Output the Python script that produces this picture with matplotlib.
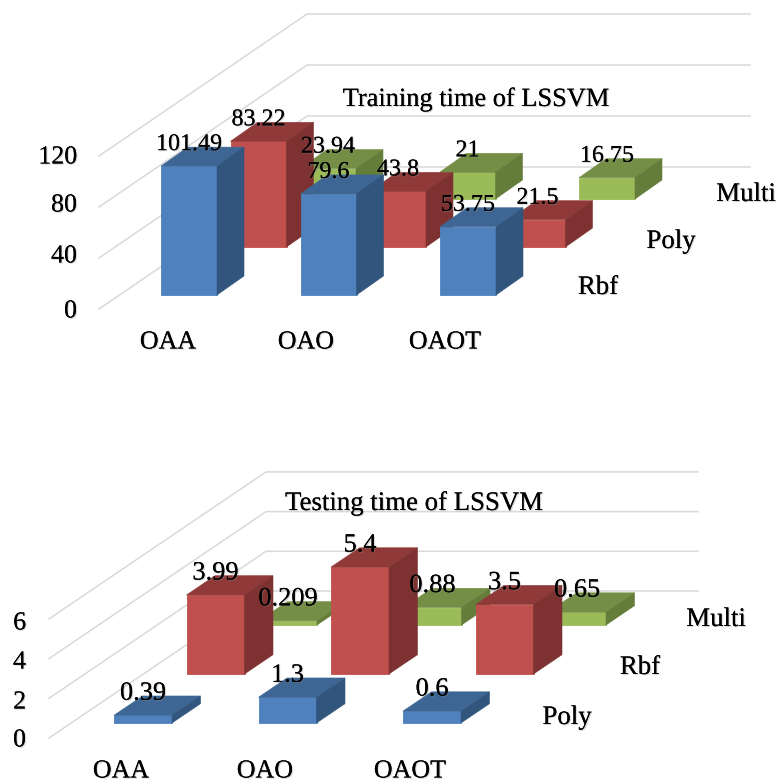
import matplotlib
matplotlib.use('Agg')
import matplotlib.pyplot as plt
import matplotlib.patheffects as pe

plt.rcParams['font.family'] = ['Liberation Serif', 'DejaVu Serif']

categories = ['OAA', 'OAO', 'OAOT']

# training time, front to back
train_series = ['Rbf', 'Poly', 'Multi']
train_rbf = [101.49, 79.6, 53.75]
train_poly = [83.22, 43.8, 21.5]
train_multi = [23.94, 21, 16.75]
train_ticks = [0, 40, 80, 120]

# testing time, front to back
test_series = ['Poly', 'Rbf', 'Multi']
test_poly = [0.39, 1.3, 0.6]
test_rbf = [3.99, 5.4, 3.5]
test_multi = [0.209, 0.88, 0.65]
test_ticks = [0, 2, 4, 6]

BLUE = ('#4f81bd', '#3d6695', '#31557d')
RED = ('#c0504d', '#8f3a38', '#7d3231')
GREEN = ('#9bbb59', '#748f45', '#657d3a')

FS = 26 * 72 / 100  # 26 px em
shadow = [pe.withSimplePatchShadow(offset=(0.8, -0.8), shadow_rgbFace='#888888', alpha=0.35),
          pe.Normal()]


def put_text(ax, x, y, s, size=FS):
    ax.text(x, y + 2.5, s, fontsize=size, ha='center', va='center', color='black',
            path_effects=shadow, zorder=20)


def draw_bar(ax, x, y0, w, h, dx, dy, colors, z):
    top = y0 - h
    # front, top, side
    ax.fill([x, x + w, x + w, x], [y0, y0, top, top], color=colors[0], lw=0.6, zorder=z)
    ax.fill([x, x + w, x + w + dx, x + dx], [top, top, top - dy, top - dy],
            color=colors[1], lw=0.4, zorder=z)
    ax.fill([x + w, x + w + dx, x + w + dx, x + w], [y0, y0 - dy, top - dy, top],
            color=colors[2], lw=0.4, zorder=z)


def draw_chart(ax, groups, ticks, g, names, title):
    scale = g['scale']
    # walls
    for t in ticks:
        lift = t * g['grid_scale']
        ax.plot([g['wall_x0'], g['wall_x1'], g['wall_x2']],
                [g['wall_y0'] - lift, g['wall_y1'] - lift, g['wall_y1'] - lift],
                color='#d9d9d9', lw=1.1, zorder=1)
    for i, (vals, colors) in reversed(list(enumerate(groups))):
        y0 = g['base_y'] - i * g['series_dy']
        for j, v in enumerate(vals):
            x = g['base_x'] + j * g['cat_dx'] + i * g['series_dx']
            draw_bar(ax, x, y0, g['bar_w'], v * scale, g['depth_x'], g['depth_y'], colors,
                     5 + (3 - i) * 2 + j * 0.1)
            put_text(ax, x + g['bar_w'] / 2, y0 - v * scale - 24, str(v), g['label_fs'])
    for t, ty in zip(ticks, g['tick_y']):
        ax.text(g['tick_x'], ty + 2.5, str(t), fontsize=FS, ha='right', va='center', path_effects=shadow)
    for c, cx in zip(categories, g['cat_x']):
        put_text(ax, cx, g['cat_y'], c)
    for n, sx, sy in zip(names, g['name_x'], g['name_y']):
        put_text(ax, sx, sy, n, g['name_fs'])
    put_text(ax, g['title_x'], g['title_y'], title, g['title_fs'])


fig = plt.figure(figsize=(7.77, 7.80), dpi=100)
ax = fig.add_axes([0, 0, 1, 1])
ax.set_xlim(0, 777)
ax.set_ylim(780, 0)
ax.axis('off')

top_geom = dict(scale=1.27, grid_scale=1.275, wall_x0=99, wall_x1=307, wall_x2=750,
                wall_y0=309, wall_y1=167, base_x=161, base_y=295, bar_w=56, cat_dx=139.5,
                series_dx=69.5, series_dy=48, depth_x=27, depth_y=19, label_fs=17.3,
                tick_x=77, tick_y=[309, 254, 203, 155],
                cat_x=[168, 306, 445], cat_y=340,
                name_x=[598, 671, 746], name_y=[285, 239, 192], name_fs=19.3,
                title_x=476, title_y=97, title_fs=19)
bot_geom = dict(scale=19.8, grid_scale=19.85, wall_x0=49, wall_x1=266, wall_x2=698,
                wall_y0=738, wall_y1=591, base_x=114, base_y=723, bar_w=58, cat_dx=144.5,
                series_dx=72.5, series_dy=49, depth_x=28.5, depth_y=19.3, label_fs=19,
                tick_x=26, tick_y=[738, 700, 660, 621],
                cat_x=[121, 265, 410], cat_y=769,
                name_x=[567, 640, 716], name_y=[715, 665, 617], name_fs=19.3,
                title_x=414, title_y=501, title_fs=19.3)

draw_chart(ax, [(train_rbf, BLUE), (train_poly, RED), (train_multi, GREEN)],
           train_ticks, top_geom, train_series, 'Training time of LSSVM')
draw_chart(ax, [(test_poly, BLUE), (test_rbf, RED), (test_multi, GREEN)],
           test_ticks, bot_geom, test_series, 'Testing time of LSSVM')

fig.savefig('out.png', dpi=100)
